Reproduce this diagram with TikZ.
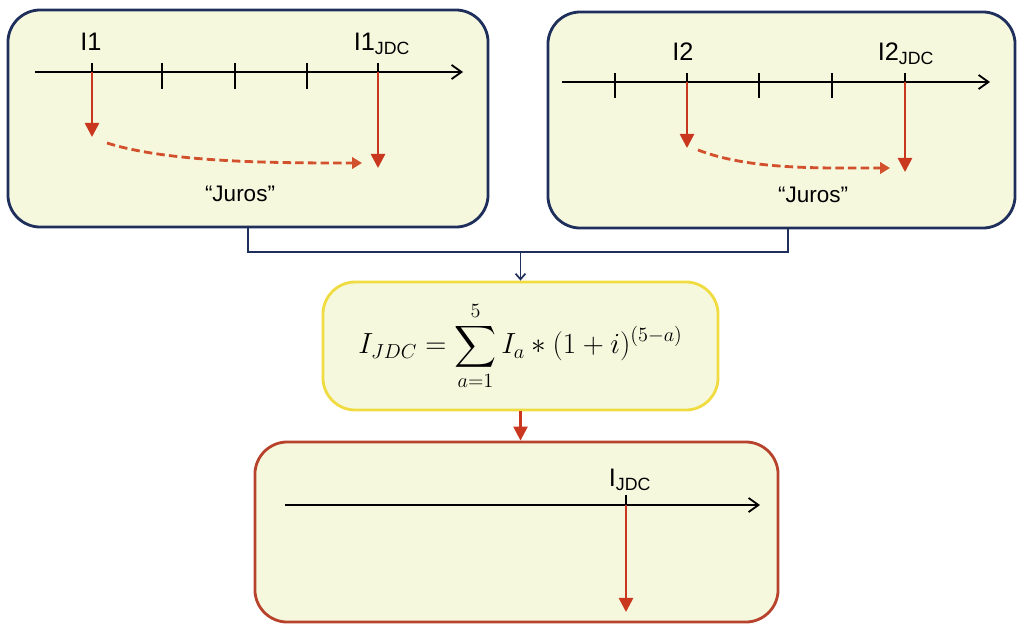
\documentclass[tikz,border=0pt]{standalone}
\usepackage{amsmath}
\usepackage{fontspec}
\setmainfont{Liberation Sans}
\usetikzlibrary{arrows.meta}
\definecolor{fundo}{HTML}{F6F8DE}
\definecolor{azul}{HTML}{1F2F5C}
\definecolor{amarelo}{HTML}{F0DC40}
\definecolor{tijolo}{HTML}{B8432C}
\definecolor{vermelho}{HTML}{C8371E}
\definecolor{laranja}{HTML}{D2502C}
\begin{document}
\begin{tikzpicture}[x=0.025cm, y=-0.025cm,
  caixa/.style={draw=azul, line width=2pt, fill=fundo, rounded corners=23pt},
  eixo/.style={line width=1.3pt, -{Straight Barb[length=7pt,width=10pt]}},
  marca/.style={line width=1.3pt},
  fluxo/.style={vermelho, line width=1.8pt, -{Triangle[length=10pt,width=10pt]}},
  juros/.style={laranja, line width=2pt, dash pattern=on 6pt off 3pt, -{Triangle[length=7pt,width=8pt]}},
  ligacao/.style={azul, line width=1.2pt},
  rotulo/.style={font=\fontsize{18}{20}\selectfont, anchor=base, inner sep=0pt},
  jtexto/.style={font=\fontsize{16}{18}\selectfont, anchor=base, inner sep=0pt}]
  \useasboundingbox (0,0) rectangle (1019,626);

  % Caixas
  \node[caixa, minimum width=12cm, minimum height=5.425cm] (box1) at (248,118.5) {};
  \node[caixa, minimum width=11.675cm, minimum height=5.4cm] (box2) at (781.5,120) {};
  \node[caixa, draw=amarelo, minimum width=9.875cm, minimum height=3.2cm] (form) at (520.5,346)
    {\fontsize{21}{25}\selectfont $\displaystyle I_{JDC} = \sum_{a=1}^{5} I_a * (1+i)^{(5-a)}$};
  \node[caixa, draw=tijolo, minimum width=13.075cm, minimum height=4.5cm] (res) at (516.5,532) {};

  % Linha do tempo 1
  \coordinate (e1a) at (35,72);
  \coordinate (e1b) at (463,72);
  \draw[eixo] (e1a) -- (e1b);
  \foreach \x [count=\k] in {92,162,235,307,378} {
    \coordinate (m1\k) at (\x,72);
    \draw[marca] (\x,63) -- (\x,89);
  }
  \coordinate (p1) at (92,137);
  \coordinate (q1) at (378,168);
  \draw[fluxo] (m11) -- (p1);
  \draw[fluxo] (m15) -- (q1);
  \coordinate (d1a) at (107,143);
  \coordinate (d1b) at (362,163);
  \draw[juros] (d1a) .. controls (170,163) and (280,163) .. (d1b);
  \node[rotulo] (l1) at (91,50) {I1};
  \node[rotulo] (l1j) at (382,50) {I1\textsubscript{JDC}};
  \node[jtexto] (j1) at (240,201) {“Juros”};

  % Linha do tempo 2
  \coordinate (e2a) at (562,82);
  \coordinate (e2b) at (990,82);
  \draw[eixo] (e2a) -- (e2b);
  \foreach \x [count=\k] in {615,687,759,832,905} {
    \coordinate (m2\k) at (\x,82);
    \draw[marca] (\x,73) -- (\x,98);
  }
  \coordinate (p2) at (687,148);
  \coordinate (q2) at (905,172);
  \draw[fluxo] (m22) -- (p2);
  \draw[fluxo] (m25) -- (q2);
  \coordinate (d2a) at (698,150);
  \coordinate (d2b) at (890,168);
  \draw[juros] (d2a) .. controls (750,170) and (820,168) .. (d2b);
  \node[rotulo] (l2) at (683,60) {I2};
  \node[rotulo] (l2j) at (906,60) {I2\textsubscript{JDC}};
  \node[jtexto] (j2) at (813,202) {“Juros”};

  % Ligacoes
  \coordinate (juncao) at (520.5,252);
  \draw[ligacao] (box1.south) |- (juncao) -| ([xshift=0.16cm]box2.south);
  \draw[ligacao, -{Straight Barb[length=4pt,width=7pt]}] (juncao) -- (form.north);
  \draw[fluxo] (form.south) -- (form.south |- res.north);

  % Resultado
  \coordinate (e3a) at (285,505);
  \coordinate (e3b) at (760,505);
  \draw[eixo] (e3a) -- (e3b);
  \coordinate (m3) at (626,505);
  \draw[marca] (626,495) -- (m3);
  \coordinate (p3) at (626,612);
  \draw[fluxo] (m3) -- (p3);
  \node[rotulo] (l3) at (630,486) {I\textsubscript{JDC}};
\end{tikzpicture}
\end{document}
